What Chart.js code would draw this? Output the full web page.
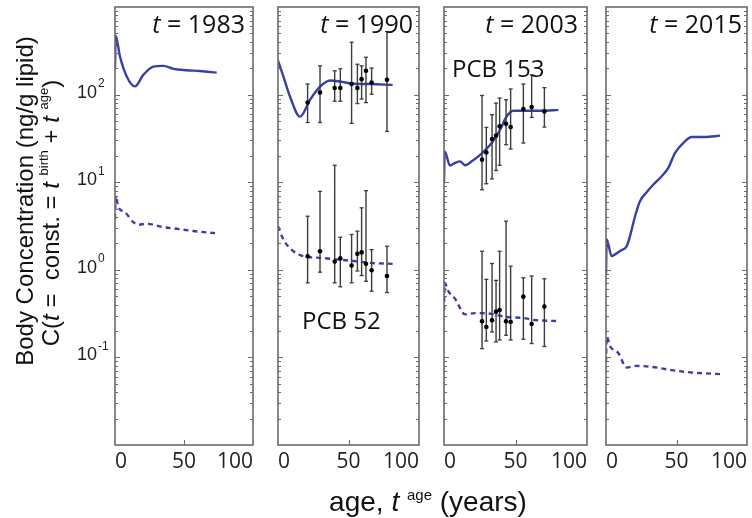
<!DOCTYPE html>
<html>
<head>
<meta charset="utf-8">
<script src="https://cdn.jsdelivr.net/npm/chart.js@4.4.1/dist/chart.umd.min.js"></script>
<style>
    body { margin: 0; background: #fff; }
    #lienzo { position: relative; width: 752px; height: 518px; overflow: hidden; background: #fff; }
    canvas { position: absolute; top: 0; }
    .texto { position: absolute; white-space: nowrap; color: #111; }
    .tit { top: 11px; width: 110px; text-align: right; font: 25px "Open Sans"; line-height: 25px; }
    .pcb { font: 24px "Open Sans"; line-height: 24px; }
    .ytit { font: 24px "Liberation Sans"; line-height: 24px; transform: translate(-50%, -50%) rotate(-90deg); }
    .xtit { font: 28px "Liberation Sans"; line-height: 28px; transform: translateX(-50%); }
    .sup { position: relative; font-size: 13px; top: -11px; }
</style>
</head>
<body>
<div id="lienzo">
    <canvas id="panel1"></canvas>
    <canvas id="panel2"></canvas>
    <canvas id="panel3"></canvas>
    <canvas id="panel4"></canvas>

    <div class="texto tit" style="left:135px"><i>t</i> = 1983</div>
    <div class="texto tit" style="left:303px"><i>t</i> = 1990</div>
    <div class="texto tit" style="left:468px"><i>t</i> = 2003</div>
    <div class="texto tit" style="left:632px"><i>t</i> = 2015</div>

    <div class="texto pcb" style="left:452px; top:56px">PCB 153</div>
    <div class="texto pcb" style="left:302px; top:308px">PCB 52</div>

    <div class="texto ytit" style="left:25px; top:201px">Body Concentration (ng/g lipid)</div>
    <div class="texto ytit" style="left:53px; top:213px">C(<i>t</i> =&nbsp; const. = <i>t</i> <span class="sup">birth</span> + <i>t</i> <span class="sup">age</span>)</div>
    <div class="texto xtit" style="left:428px; top:488px">age, <i>t</i> <span class="sup" style="font-size:15px">age</span> (years)</div>
</div>

<script>
//Etiquetas de los ejes
const anios = ["1983", "1990", "2003", "2015"];
const exponentesY = [2, 1, 0, -1];
const ticksX = [0, 50, 100];

//Modelo 1983 (PCB 153 continua, PCB 52 discontinua)
const edad153_1983 = [0, 0.5, 3.6, 8.5, 14.5, 20.5, 27.8, 35, 42.3, 52, 61.6, 73.7];
const pcb153_1983 = [200, 470, 272, 161, 124, 168, 209, 213, 197, 190, 186, 178];
const edad52_1983 = [0, 0.5, 2.4, 7.2, 13.3, 16.9, 23, 35, 44.7, 56.8, 72.5];
const pcb52_1983 = [3.8, 7.0, 5.2, 4.55, 3.5, 3.27, 3.35, 3.07, 2.94, 2.77, 2.62];

//Modelo 1990
const edad153_1990 = [0, 3.8, 8.5, 15.6, 22.7, 29.8, 36.9, 44, 53.4, 65.2, 81.3];
const pcb153_1990 = [245, 161, 95, 56, 87, 123, 145, 141, 133, 132, 129];
const edad52_1990 = [0, 3.8, 10.9, 18, 29.8, 53.4, 65.2, 81.3];
const pcb52_1990 = [3.15, 2.22, 1.63, 1.43, 1.37, 1.26, 1.2, 1.17];

//Medidas 1990
const obsEdad_1990 = [21.0, 29.8, 40.2, 44.2, 52.2, 56.3, 59.3, 62.4, 66.4, 77.3];
const obs153_1990 = [81, 106, 119, 119, 132, 119, 150, 187, 137, 148];
const obs153_1990_min = [48, 48, 84, 84, 47, 79, 89, 81, 101, 38];
const obs153_1990_max = [132, 213, 187, 197, 396, 222, 213, 267, 201, 524];
const obs52_1990 = [1.43, 1.63, 1.24, 1.35, 1.12, 1.52, 1.58, 1.17, 0.99, 0.85];
const obs52_1990_min = [0.71, 0.94, 0.71, 0.64, 0.71, 0.97, 0.86, 0.74, 0.57, 0.55];
const obs52_1990_max = [4.09, 7.87, 15.6, 2.35, 2.53, 2.76, 5.1, 8.0, 1.7, 1.86];

//Modelo 2003
const edad153_2003 = [0, 0.5, 4.2, 7.7, 11.2, 14.7, 19.4, 26.3, 33.3, 39.2, 43.8, 48.5, 56.6, 68.3, 80];
const pcb153_2003 = [9.8, 22.5, 15.5, 16.6, 17.3, 15.6, 17.3, 21.2, 28, 39.7, 56.3, 65.3, 65.3, 65.3, 67];
const edad52_2003 = [0, 0.5, 3.0, 7.7, 14.7, 21.7, 33.3, 43.8, 54.3, 63.6, 80];
const pcb52_2003 = [0.34, 0.71, 0.57, 0.469, 0.31, 0.32, 0.314, 0.289, 0.283, 0.267, 0.26];

//Medidas 2003
const obsEdad_2003 = [26.6, 29.6, 33.6, 36.4, 38.9, 43.4, 46.6, 55.5, 61.3, 70.2];
const obs153_2003 = [18.1, 21.9, 31.1, 34, 43.4, 46.5, 42.6, 68.4, 72, 64.3];
const obs153_2003_min = [8.2, 9.6, 10.9, 13.6, 15.6, 26.8, 23.9, 28, 54.9, 42.6];
const obs153_2003_max = [97.7, 42.2, 58.9, 80, 91.2, 87.3, 116, 132, 168, 120];
const obs52_2003 = [0.258, 0.222, 0.265, 0.333, 0.348, 0.258, 0.254, 0.494, 0.241, 0.38];
const obs52_2003_min = [0.126, 0.154, 0.195, 0.150, 0.158, 0.179, 0.158, 0.161, 0.144, 0.133];
const obs52_2003_max = [1.63, 0.778, 1.18, 0.757, 1.63, 3.59, 1.1, 0.81, 0.85, 0.79];

//Modelo 2015
const edad153_2015 = [0, 0.5, 4.0, 6.4, 11.1, 14.7, 17, 20.6, 24.1, 28.8, 33.6, 39.5, 44.2, 48.9, 54.8, 60.8, 70.2, 80.9];
const pcb153_2015 = [0.89, 2.22, 1.43, 1.5, 1.68, 1.86, 2.42, 4.09, 6.07, 7.67, 9.4, 11.7, 14.6, 21.5, 28, 32.8, 32.8, 34];
const edad52_2015 = [0, 0.5, 2.8, 8.7, 14.7, 20.6, 32.4, 46.6, 60.8, 80.9];
const pcb52_2015 = [0.0875, 0.173, 0.135, 0.112, 0.0767, 0.080, 0.078, 0.0715, 0.0673, 0.0644];

const AZUL = "#3a3fa6";
const GRIS = "#6b6b6b";

//Posición de cada panel en la página
const panelIzq = [115, 278, 444, 606];
const panelDer = [253, 419, 587, 747];

function puntos(xs, ys) {
    return xs.map((x, i) => ({ x: x, y: ys[i] }));
}

//Barras de error como segmentos separados por huecos
function barras(xs, mins, maxs) {
    const datos = [];
    xs.forEach((x, i) => {
        datos.push({ x: x, y: mins[i] }, { x: x, y: maxs[i] }, { x: x, y: null });
    });
    return datos;
}

function serieModelo(xs, ys, discontinua) {
    return {
        data: puntos(xs, ys),
        borderColor: AZUL,
        borderWidth: 2.4,
        borderDash: discontinua ? [5, 4] : [],
        pointRadius: 0,
        cubicInterpolationMode: "monotone",
    };
}

function serieMedidas(xs, ys) {
    return {
        data: puntos(xs, ys),
        showLine: false,
        pointRadius: 2.3,
        pointBackgroundColor: "#000",
        pointBorderWidth: 0,
    };
}

function serieBarras(xs, mins, maxs) {
    return {
        data: barras(xs, mins, maxs),
        borderColor: "#3c3c3c",
        borderWidth: 1.4,
        spanGaps: false,
        pointStyle: "line",
        pointRadius: 2,
        pointBorderColor: "#3c3c3c",
        pointBorderWidth: 1.3,
    };
}

//Marco, marcas interiores del eje logarítmico y marca de 50 años
const marcoEjes = {
    id: "marcoEjes",
    afterDraw(chart) {
        const { ctx, chartArea: a, scales } = chart;
        const y = scales.y;
        const x = scales.x;
        ctx.save();
        ctx.strokeStyle = GRIS;
        ctx.lineWidth = 1.1;
        for (let k = -2; k <= 3; k++) {
            for (let m = 1; m <= 9; m++) {
                const v = m * Math.pow(10, k);
                if (v <= 0.01 || v >= 1000) continue;
                const py = Math.round(y.getPixelForValue(v)) + 0.5;
                const largo = m === 1 ? 5 : 3;
                ctx.beginPath();
                ctx.moveTo(a.left, py);
                ctx.lineTo(a.left + largo, py);
                ctx.moveTo(a.right, py);
                ctx.lineTo(a.right - largo, py);
                ctx.stroke();
            }
        }
        const px = Math.round(x.getPixelForValue(ticksX[1])) + 0.5;
        ctx.beginPath();
        ctx.moveTo(px, a.bottom);
        ctx.lineTo(px, a.bottom - 5);
        ctx.stroke();
        ctx.lineWidth = 1.6;
        ctx.strokeRect(a.left, a.top, a.right - a.left, a.bottom - a.top);
        ctx.restore();
    }
};

//Etiquetas 10^n del primer panel
const etiquetasY = {
    id: "etiquetasY",
    afterDraw(chart) {
        const { ctx, chartArea: a, scales: { y } } = chart;
        ctx.save();
        ctx.fillStyle = "#222";
        ctx.textBaseline = "middle";
        ctx.textAlign = "left";
        exponentesY.forEach((e) => {
            const py = y.getPixelForValue(Math.pow(10, e));
            const x0 = a.left - 38;
            ctx.font = "18px 'Liberation Sans'";
            ctx.fillText("10", x0, py - 2);
            const ancho = ctx.measureText("10").width;
            ctx.font = "12px 'Liberation Sans'";
            ctx.fillText(String(e), x0 + ancho + 1, py - 11);
        });
        ctx.restore();
    }
};

function crearPanel(n, datasets) {
    const canvas = document.getElementById("panel" + (n + 1));
    const izqCanvas = n === 0 ? 0 : panelIzq[n] - 8;
    const derCanvas = Math.min(752, panelDer[n] + 8);
    canvas.width = derCanvas - izqCanvas;
    canvas.height = 518;
    canvas.style.left = izqCanvas + "px";

    return new Chart(canvas, {
        type: "line",
        data: { datasets: datasets },
        options: {
            responsive: false,
            animation: false,
            devicePixelRatio: 1,
            layout: {
                padding: { left: panelIzq[n] - izqCanvas, right: derCanvas - panelDer[n], top: 7, bottom: 0 }
            },
            plugins: {
                legend: { display: false },
                tooltip: { enabled: false }
            },
            scales: {
                x: {
                    type: "linear",
                    min: ticksX[0],
                    max: ticksX[2],
                    grid: { display: false, drawTicks: false },
                    border: { display: false },
                    ticks: {
                        stepSize: 50,
                        align: "inner",
                        padding: 4,
                        color: "#222",
                        font: { family: "'Open Sans'", size: 21 }
                    },
                    afterFit: (escala) => { escala.height = 73; }
                },
                y: {
                    type: "logarithmic",
                    min: 0.01,
                    max: 1000,
                    display: false
                }
            }
        },
        plugins: n === 0 ? [marcoEjes, etiquetasY] : [marcoEjes]
    });
}

//1983
crearPanel(0, [
    serieModelo(edad153_1983, pcb153_1983, false),
    serieModelo(edad52_1983, pcb52_1983, true),
]);

//1990
crearPanel(1, [
    serieMedidas(obsEdad_1990, obs153_1990),
    serieMedidas(obsEdad_1990, obs52_1990),
    serieBarras(obsEdad_1990, obs153_1990_min, obs153_1990_max),
    serieBarras(obsEdad_1990, obs52_1990_min, obs52_1990_max),
    serieModelo(edad153_1990, pcb153_1990, false),
    serieModelo(edad52_1990, pcb52_1990, true),
]);

//2003
crearPanel(2, [
    serieMedidas(obsEdad_2003, obs153_2003),
    serieMedidas(obsEdad_2003, obs52_2003),
    serieBarras(obsEdad_2003, obs153_2003_min, obs153_2003_max),
    serieBarras(obsEdad_2003, obs52_2003_min, obs52_2003_max),
    serieModelo(edad153_2003, pcb153_2003, false),
    serieModelo(edad52_2003, pcb52_2003, true),
]);

//2015
crearPanel(3, [
    serieModelo(edad153_2015, pcb153_2015, false),
    serieModelo(edad52_2015, pcb52_2015, true),
]);
</script>
</body>
</html>
